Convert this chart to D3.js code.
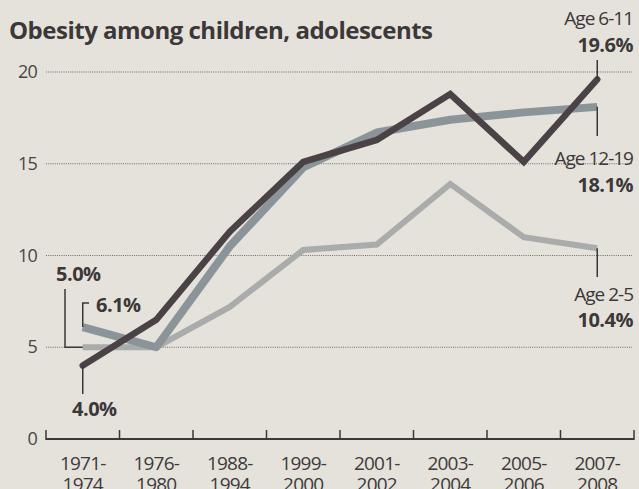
<!DOCTYPE html>
<html>
<head>
<meta charset="utf-8">
<script src="https://cdn.jsdelivr.net/npm/d3@7"></script>
<style>
  body { margin: 0; background: #e4e2da; }
  svg { display: block; font-family: "Open Sans", sans-serif; }
</style>
</head>
<body>
<div class="container"></div>
<script>
var periods = ["1971-1974", "1976-1980", "1988-1994", "1999-2000", "2001-2002", "2003-2004", "2005-2006", "2007-2008"];
var age2to5 = [5.0, 5.0, 7.2, 10.3, 10.6, 13.9, 11.0, 10.4];
var age6to11 = [4.0, 6.5, 11.3, 15.1, 16.3, 18.8, 15.1, 19.6];
var age12to19 = [6.1, 5.0, 10.5, 14.8, 16.7, 17.4, 17.8, 18.1];
var yTicks = [0, 5, 10, 15, 20];

var width = 639, height = 489;
var left = 46, right = 634, bottom = 439;

var svg = d3.select(".container").append("svg")
    .attr("width", width)
    .attr("height", height);

svg.append("rect").attr("width", width).attr("height", height).attr("fill", "#e4e2da");

var x = d3.scaleBand().domain(periods).range([left, right]);
var y = d3.scaleLinear().domain([0, 20]).range([bottom, 72]);
var cx = function(d, i) { return x(periods[i]) + x.bandwidth() / 2; };

// title
svg.append("text")
    .attr("x", 9).attr("y", 39)
    .attr("font-size", 24).attr("font-weight", 700)
    .attr("fill", "#3c3739")
    .attr("letter-spacing", -0.5)
    .text("Obesity among children, adolescents");

// gridlines
svg.selectAll(".grid")
    .data(yTicks.filter(function(d) { return d > 0; }))
    .enter().append("line")
    .attr("x1", left).attr("x2", 632)
    .attr("y1", function(d) { return y(d); })
    .attr("y2", function(d) { return y(d); })
    .attr("stroke", "#6f6b68")
    .attr("stroke-width", 1)
    .attr("stroke-dasharray", "1,1.2");

// y labels
svg.selectAll(".ylab")
    .data(yTicks)
    .enter().append("text")
    .attr("x", 37).attr("y", function(d) { return y(d) + 6; })
    .attr("text-anchor", "end")
    .attr("font-size", 18)
    .attr("fill", "#4a4547")
    .attr("letter-spacing", -0.8)
    .text(function(d) { return d; });

// x axis
var xa = svg.append("g").attr("transform", "translate(0," + bottom + ")")
    .call(d3.axisBottom(x).tickSize(0).tickFormat(""));
xa.select(".domain").remove();
xa.append("line").attr("x1", left).attr("x2", right).attr("stroke", "#3c3739").attr("stroke-width", 2);
var bounds = periods.map(function(p) { return x(p); }).concat([right]);
xa.selectAll(".tk").data(bounds).enter().append("line")
    .attr("x1", function(d) { return d; }).attr("x2", function(d) { return d; })
    .attr("y1", 1).attr("y2", -9)
    .attr("stroke", "#3c3739").attr("stroke-width", 1.5);

var top1 = svg.selectAll(".xlab1").data(periods).enter().append("text")
    .attr("x", function(d) { return x(d) + x.bandwidth() / 2; })
    .attr("y", 470)
    .attr("text-anchor", "middle")
    .attr("font-size", 19)
    .attr("fill", "#3f3a3c")
    .attr("letter-spacing", -0.8)
    .text(function(d) { return d.split("-")[0] + "-"; });
var top2 = svg.selectAll(".xlab2").data(periods).enter().append("text")
    .attr("x", function(d) { return x(d) + x.bandwidth() / 2; })
    .attr("y", 491)
    .attr("text-anchor", "middle")
    .attr("font-size", 19)
    .attr("fill", "#3f3a3c")
    .attr("letter-spacing", -0.8)
    .text(function(d) { return d.split("-")[1]; });

// lines
var line = d3.line().x(cx).y(function(d) { return y(d); });

svg.append("path").datum(age2to5)
    .attr("d", line).attr("fill", "none")
    .attr("stroke", "#a9acab").attr("stroke-width", 6).attr("stroke-linejoin", "miter");
svg.append("path").datum(age12to19)
    .attr("d", line).attr("fill", "none")
    .attr("stroke", "#8b9599").attr("stroke-width", 8).attr("stroke-linejoin", "round");
svg.append("path").datum(age6to11)
    .attr("d", line).attr("fill", "none")
    .attr("stroke", "#4b4245").attr("stroke-width", 6.5).attr("stroke-linejoin", "miter")
    .attr("stroke-linecap", "round");

// annotations
var ink = "#3c3739";
function leader(pts) {
    svg.append("path")
        .attr("d", d3.line()(pts))
        .attr("fill", "none").attr("stroke", ink).attr("stroke-width", 1.5);
}
function note(xp, yp, txt, bold, anchor) {
    svg.append("text")
        .attr("x", xp).attr("y", yp)
        .attr("text-anchor", anchor || "end")
        .attr("font-size", bold ? 20 : 19)
        .attr("font-weight", bold ? 700 : 400)
        .attr("fill", ink)
        .attr("letter-spacing", bold ? -0.5 : -1)
        .text(txt);
}

var lastX = cx(0, 7), firstX = cx(0, 0);
leader([[lastX, 60], [lastX, y(age6to11[7])]]);
note(633, 25, "Age 6-11", false);
note(633, 52, age6to11[7].toFixed(1) + "%", true);

leader([[lastX, y(age12to19[7])], [lastX, 136]]);
note(633, 165, "Age 12-19", false);
note(633, 192, age12to19[7].toFixed(1) + "%", true);

leader([[lastX, y(age2to5[7])], [lastX, 277]]);
note(633, 301, "Age 2-5", false);
note(633, 327, age2to5[7].toFixed(1) + "%", true);

leader([[firstX, y(age2to5[0])], [65, y(age2to5[0])], [65, 289]]);
note(56, 281, age2to5[0].toFixed(1) + "%", true, "start");

leader([[firstX, y(age12to19[0])], [firstX, 303], [89, 303]]);
note(96, 312, age12to19[0].toFixed(1) + "%", true, "start");

leader([[firstX, y(age6to11[0])], [firstX, 394]]);
note(72, 416, age6to11[0].toFixed(1) + "%", true, "start");
</script>
</body>
</html>
